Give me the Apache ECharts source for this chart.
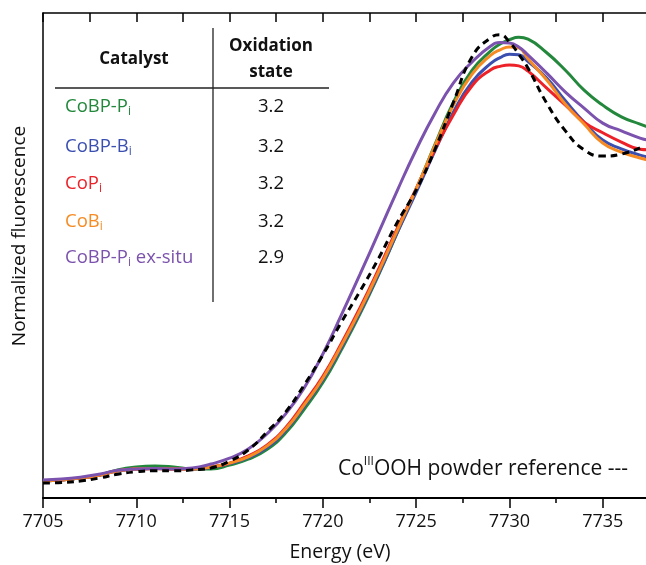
<!DOCTYPE html>
<html>
<head>
<meta charset="utf-8">
<script src="https://cdn.jsdelivr.net/npm/echarts@6/dist/echarts.min.js"></script>
<style>
  html, body { margin: 0; padding: 0; background: #fff; overflow: hidden; }
  #chart { width: 700px; height: 565px; }
</style>
</head>
<body>
<div id="chart"></div>
<script>
// energy grid (eV) and normalized fluorescence
var energy = [7705, 7706, 7707, 7708, 7709, 7710, 7711, 7712, 7713, 7714,
  7715, 7716, 7717, 7718, 7719, 7720, 7721, 7722, 7723, 7724,
  7725, 7726, 7727, 7728, 7729,
  7729.5, 7730, 7730.5, 7731, 7732, 7733, 7734, 7735, 7736, 7737, 7737.4];

var coBPPi = [3.5, 3.7, 4.1, 4.7, 5.8, 6.4, 6.6, 6.4, 6.0, 6.0,
  6.8, 8.0, 10.0, 13.4, 18.3, 23.8, 30.6, 38.0, 46.1, 54.8,
  63.6, 72.8, 81.6, 88.2, 92.2,
  93.6, 94.5, 95.0, 94.6, 91.8, 88.2, 84.1, 81.0, 78.6, 77.1, 76.5];
var coBPBi = [3.5, 3.7, 4.1, 4.7, 5.6, 6.0, 6.1, 6.0, 6.0, 6.3,
  7.1, 8.3, 10.4, 13.9, 18.9, 24.4, 31.1, 38.4, 46.3, 54.8,
  63.0, 71.5, 79.6, 85.8, 89.6,
  90.8, 91.5, 91.4, 90.0, 86.6, 81.9, 77.5, 73.8, 72.0, 70.7, 70.3];
var coPi = [3.5, 3.7, 4.1, 4.7, 5.6, 6.0, 6.1, 6.0, 6.0, 6.4,
  7.2, 8.7, 10.9, 14.5, 19.6, 25.1, 31.9, 39.3, 47.3, 55.7,
  63.8, 71.8, 79.0, 85.0, 88.3,
  89.0, 89.3, 89.1, 88.0, 84.5, 81.0, 77.5, 75.3, 73.4, 71.9, 71.8];
var coBi = [3.5, 3.7, 4.1, 4.7, 5.6, 6.0, 6.1, 6.0, 6.0, 6.4,
  7.2, 8.5, 10.7, 14.2, 19.2, 24.7, 31.5, 38.8, 46.8, 55.3,
  63.7, 72.6, 81.0, 87.4, 91.3,
  92.4, 93.0, 92.8, 90.5, 86.2, 81.2, 77.1, 73.2, 71.3, 70.1, 69.7];
var coBPPiExSitu = [3.7, 3.9, 4.3, 4.9, 5.7, 6.0, 6.1, 6.0, 6.2, 7.0,
  8.2, 10.1, 13.2, 17.3, 22.7, 29.7, 37.8, 46.2, 54.8, 63.5,
  71.8, 79.3, 85.6, 89.9, 93.2,
  93.9, 93.8, 93.0, 91.3, 87.6, 83.7, 80.4, 77.3, 75.7, 74.2, 73.8];
// CoIIIOOH powder reference (7705 - 7737 eV)
var coOOHRef = [3.1, 3.2, 3.5, 4.1, 4.9, 5.4, 5.6, 5.6, 5.8, 6.2,
  7.6, 9.9, 13.6, 17.7, 23.3, 29.5, 36.3, 42.7, 49.5, 56.9,
  63.5, 71.8, 81.6, 91.0, 94.9,
  95.5, 94.0, 91.5, 88.6, 81.4, 75.7, 71.8, 70.5, 70.9, 72.2];

var xTicks = [7705, 7710, 7715, 7720, 7725, 7730, 7735];

var catalysts = ['CoBP-P', 'CoBP-B', 'CoP', 'CoB', 'CoBP-P'];
var suffix = ['', '', '', '', ' ex-situ'];
var oxidation = ['3.2', '3.2', '3.2', '3.2', '2.9'];
var colors = ['#23883c', '#3a4fb0', '#ec2228', '#f68b24', '#7b52ad'];

var font = '"Open Sans", sans-serif';

function pairs(vals) {
  return vals.map(function (v, i) { return [energy[i], v]; });
}

var curves = [coBPPi, coBPBi, coPi, coBi, coBPPiExSitu];
var series = curves.map(function (vals, i) {
  return {
    name: catalysts[i] + 'i' + suffix[i],
    type: 'line',
    data: pairs(vals),
    smooth: 0.5,
    symbol: 'none',
    lineStyle: { color: colors[i], width: 3 },
    z: 2 + i
  };
});
series.push({
  name: 'CoOOH reference',
  type: 'line',
  data: pairs(coOOHRef),
  smooth: 0.5,
  symbol: 'none',
  lineStyle: { color: '#000', width: 3, type: [7, 5] },
  z: 10
});

// table drawn as graphic elements
var graphics = [];
graphics.push({ type: 'line', shape: { x1: 213, y1: 28, x2: 213, y2: 302 },
  style: { stroke: '#222', lineWidth: 1.3 } });
graphics.push({ type: 'line', shape: { x1: 55, y1: 88, x2: 329, y2: 88 },
  style: { stroke: '#222', lineWidth: 1.3 } });
graphics.push({ type: 'text', x: 134, y: 59, style: { text: 'Catalyst', fontFamily: font,
  fontSize: 17, fontWeight: 'bold', fill: '#111', align: 'center', verticalAlign: 'middle' } });
graphics.push({ type: 'text', x: 271, y: 46, style: { text: 'Oxidation', fontFamily: font,
  fontSize: 17, fontWeight: 'bold', fill: '#111', align: 'center', verticalAlign: 'middle' } });
graphics.push({ type: 'text', x: 271, y: 72, style: { text: 'state', fontFamily: font,
  fontSize: 17, fontWeight: 'bold', fill: '#111', align: 'center', verticalAlign: 'middle' } });

var rowY = [107, 147, 184, 222, 258];
catalysts.forEach(function (c, i) {
  var txt = '{a|' + c + '}{s|i}' + (suffix[i] ? '{a|' + suffix[i] + '}' : '');
  graphics.push({ type: 'text', x: 65, y: rowY[i], style: {
    text: txt, fill: colors[i], align: 'left', verticalAlign: 'middle',
    rich: {
      a: { fontFamily: font, fontSize: 18.5, fill: colors[i], lineHeight: 22, verticalAlign: 'middle' },
      s: { fontFamily: font, fontSize: 12, fill: colors[i], lineHeight: 10, verticalAlign: 'bottom' }
    } } });
  graphics.push({ type: 'text', x: 271, y: rowY[i], style: { text: oxidation[i], fontFamily: font,
    fontSize: 18.5, fill: '#111', align: 'center', verticalAlign: 'middle' } });
});

// reference note
graphics.push({ type: 'text', x: 628, y: 469, style: {
  text: '{a|Co}{u|III}{a|OOH powder reference ---}', fill: '#111',
  align: 'right', verticalAlign: 'middle',
  rich: {
    a: { fontFamily: font, fontSize: 21, fill: '#111', lineHeight: 26, verticalAlign: 'middle' },
    u: { fontFamily: font, fontSize: 12, fill: '#111', lineHeight: 10, verticalAlign: 'top' }
  } } });

// axis titles
graphics.push({ type: 'text', x: 340, y: 552, style: { text: 'Energy (eV)', fontFamily: font,
  fontSize: 19.5, fill: '#111', align: 'center', verticalAlign: 'middle' } });
graphics.push({ type: 'text', x: 20, y: 236, rotation: Math.PI / 2, style: {
  text: 'Normalized fluorescence', fontFamily: font, fontSize: 19, fill: '#111',
  align: 'center', verticalAlign: 'middle' } });

var chart = echarts.init(document.getElementById('chart'), null, { renderer: 'canvas' });
chart.setOption({
  animation: false,
  backgroundColor: '#fff',
  // plot runs past the right edge of the 646px window, as in the figure
  grid: { left: 43, top: 13, bottom: 67, right: 4, containLabel: false },
  xAxis: [{
    type: 'value',
    min: 7705,
    max: 7740,
    interval: 5,
    position: 'bottom',
    axisLine: { show: true, lineStyle: { color: '#000', width: 2 } },
    axisTick: { show: true, inside: false, length: 10, lineStyle: { color: '#000', width: 1.5 } },
    minorTick: { show: true, splitNumber: 2, length: 5, lineStyle: { color: '#000', width: 1.5 } },
    axisLabel: {
      margin: 15, fontFamily: font, fontSize: 18, color: '#111',
      formatter: function (v) { return xTicks.indexOf(v) >= 0 ? String(v) : ''; }
    },
    splitLine: { show: false }
  }, {
    type: 'value',
    min: 7705,
    max: 7740,
    interval: 5,
    position: 'top',
    axisLine: { show: true, lineStyle: { color: '#000', width: 1.5 } },
    axisTick: { show: true, inside: true, length: 9, lineStyle: { color: '#000', width: 1.5 } },
    minorTick: { show: true, splitNumber: 2, length: 9, lineStyle: { color: '#000', width: 1.5 } },
    axisLabel: { show: false },
    splitLine: { show: false }
  }],
  yAxis: {
    type: 'value',
    min: 0,
    max: 100,
    axisLine: { show: true, lineStyle: { color: '#000', width: 1.5 } },
    axisTick: { show: false },
    axisLabel: { show: false },
    splitLine: { show: false }
  },
  series: series,
  graphic: graphics
});
</script>
</body>
</html>
